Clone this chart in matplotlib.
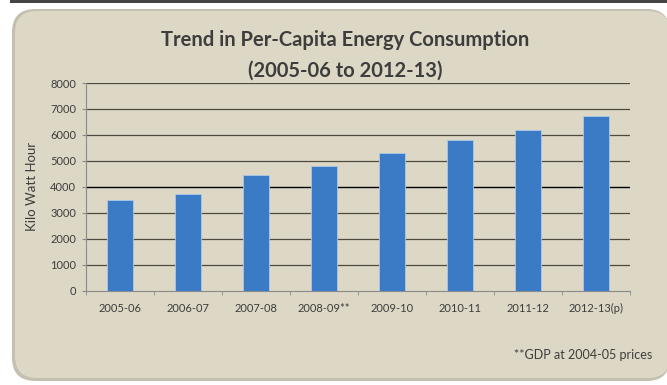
import matplotlib
matplotlib.use("Agg")
import matplotlib.pyplot as plt
from matplotlib.patches import FancyBboxPatch, Rectangle

categories = ["2005-06", "2006-07", "2007-08", "2008-09**", "2009-10",
              "2010-11", "2011-12", "2012-13(p)"]
values = [3500, 3720, 4440, 4810, 5285, 5795, 6180, 6730]
yticks = [0, 1000, 2000, 3000, 4000, 5000, 6000, 7000, 8000]

W, H = 667, 385
fig = plt.figure(figsize=(W / 100, H / 100), dpi=100)
fig.patch.set_facecolor("white")

def fx(px):
    return px / W

def fy(py):
    return 1 - py / H

# top dark strip
fig.patches.append(Rectangle((fx(10), fy(3)), 1, 3 / H, transform=fig.transFigure,
                             facecolor="#454545", edgecolor="none", zorder=-5))
# shadow + rounded panel
fig.patches.append(FancyBboxPatch((fx(12), fy(381)), fx(670) - fx(12), fy(9) - fy(381),
                                  boxstyle="round,pad=0,rounding_size=0.035",
                                  transform=fig.transFigure, facecolor="#c4c0b0",
                                  edgecolor="none", zorder=-5, mutation_aspect=W / H))
fig.patches.append(FancyBboxPatch((fx(15), fy(378)), fx(670) - fx(15), fy(11) - fy(378),
                                  boxstyle="round,pad=0,rounding_size=0.033",
                                  transform=fig.transFigure, facecolor="#ddd8c5",
                                  edgecolor="none", zorder=-4, mutation_aspect=W / H))

ax = fig.add_axes([fx(86), fy(290.7), fx(630) - fx(86), fy(83) - fy(290.7)])
ax.set_facecolor("none")
ax.set_zorder(2)

x = list(range(len(categories)))
ax.bar(x, values, width=0.38, color="#3b7bc6", edgecolor="#a9cbe8", linewidth=0.6, zorder=3)

ax.set_xlim(-0.5, len(categories) - 0.5)
ax.set_ylim(0, 8000)
ax.set_yticks(yticks)
ax.set_yticklabels([str(v) for v in yticks])
for v in yticks[1:]:
    ax.axhline(v, color="#000000" if v == 4000 else "#4f4a40", linewidth=1.0 if v == 4000 else 0.9,
               zorder=1)

ax.set_xticks(x)
ax.set_xticklabels(categories)
ax.set_xticks([i + 0.5 for i in range(-1, len(categories))], minor=True)
ax.tick_params(axis="x", which="major", length=0, pad=9, labelsize=8, labelcolor="#3c3c3c")
ax.tick_params(axis="x", which="minor", length=3, color="#8a8a8a", direction="out")
ax.tick_params(axis="y", length=3, color="#8a8a8a", labelsize=8, labelcolor="#3c3c3c", pad=4)

for s in ["top", "right"]:
    ax.spines[s].set_visible(False)
ax.spines["left"].set_color("#8a8a8a")
ax.spines["bottom"].set_color("#8a8a8a")
ax.spines["left"].set_linewidth(0.8)
ax.spines["bottom"].set_linewidth(0.8)

for lab in ax.get_xticklabels() + ax.get_yticklabels():
    lab.set_family("Lato")

ax.set_ylabel("Kilo Watt Hour", fontsize=9.5, color="#3c3c3c", family="Lato", labelpad=9)

fig.text(fx(345), fy(40), "Trend in Per-Capita Energy Consumption", ha="center", va="center",
         fontsize=14.5, fontweight="bold", color="#3d3d3d", family="Lato")
fig.text(fx(345), fy(71), "(2005-06 to 2012-13)", ha="center", va="center",
         fontsize=14.5, fontweight="bold", color="#3d3d3d", family="Lato")
fig.text(fx(652), fy(355), "**GDP at 2004-05 prices", ha="right", va="center",
         fontsize=9, color="#3c3c3c", family="Lato")

fig.savefig("out.png", dpi=100, facecolor=fig.get_facecolor())
